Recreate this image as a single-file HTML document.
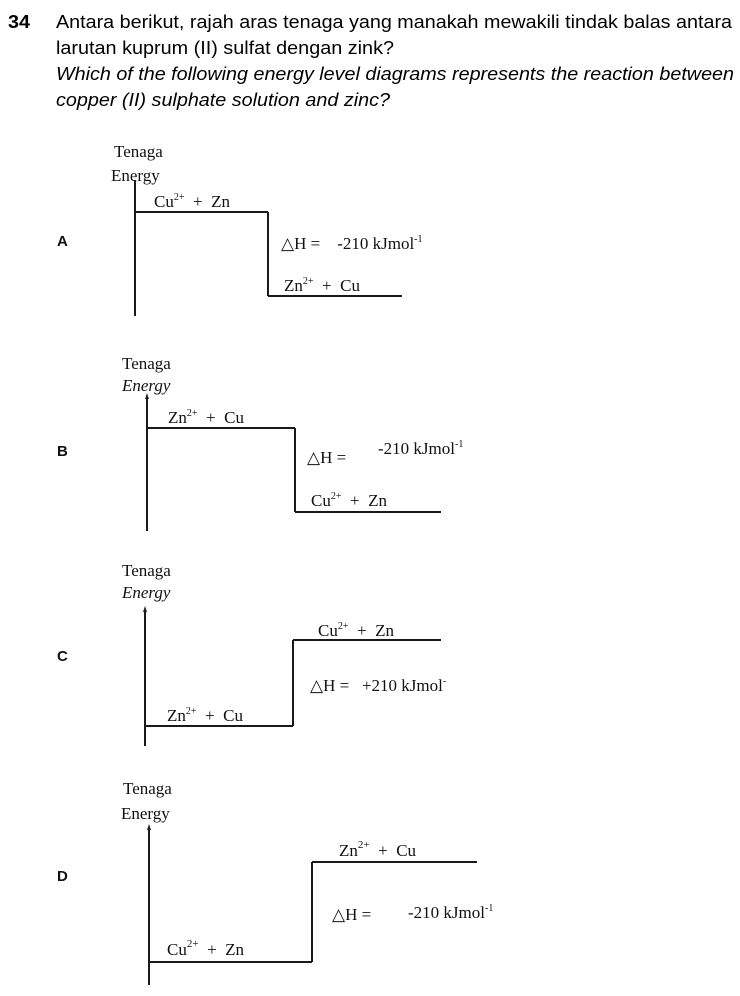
<!DOCTYPE html>
<html><head><meta charset="utf-8"><style>
html,body{margin:0;padding:0;background:#fff;}
svg{display:block;}
.h{font-family:"Liberation Sans",sans-serif;font-size:18px;fill:#000;}
.s{font-family:"Liberation Serif",serif;font-size:17px;fill:#111;white-space:pre;}
.l{font-family:"Liberation Sans",sans-serif;font-size:15px;font-weight:bold;fill:#111;}
line{stroke:#1a1a1a;stroke-width:2;}
</style></head><body>
<svg width="740" height="996" viewBox="0 0 740 996" xmlns="http://www.w3.org/2000/svg" xml:space="preserve">
<text class="h" x="8" y="28" font-weight="bold" textLength="22" lengthAdjust="spacingAndGlyphs">34</text>
<text class="h" x="56" y="28" textLength="676" lengthAdjust="spacingAndGlyphs">Antara berikut, rajah aras tenaga yang manakah mewakili tindak balas antara</text>
<text class="h" x="56" y="54" textLength="338" lengthAdjust="spacingAndGlyphs">larutan kuprum (II) sulfat dengan zink?</text>
<text class="h" x="56" y="80" font-style="italic" textLength="678" lengthAdjust="spacingAndGlyphs">Which of the following energy level diagrams represents the reaction between</text>
<text class="h" x="56" y="106" font-style="italic" textLength="334" lengthAdjust="spacingAndGlyphs">copper (II) sulphate solution and zinc?</text>

<!-- A -->
<text class="l" x="57" y="246">A</text>
<text class="s" x="114" y="157">Tenaga</text>
<text class="s" x="111" y="181">Energy</text>
<line x1="135" y1="180" x2="135" y2="316"/>
<line x1="135" y1="212" x2="268" y2="212"/>
<line x1="268" y1="212" x2="268" y2="296"/>
<line x1="268" y1="296" x2="402" y2="296"/>
<text class="s" x="154" y="207">Cu<tspan font-size="10" dy="-7">2+</tspan><tspan dy="7">  +  Zn</tspan></text>
<text class="s" x="281" y="249">△H =    -210 kJmol<tspan font-size="10" dy="-7">-1</tspan></text>
<text class="s" x="284" y="291">Zn<tspan font-size="10" dy="-7">2+</tspan><tspan dy="7">  +  Cu</tspan></text>

<!-- B -->
<text class="l" x="57" y="456">B</text>
<text class="s" x="122" y="369">Tenaga</text>
<text class="s" x="122" y="391" font-style="italic">Energy</text>
<line x1="147" y1="396" x2="147" y2="531"/>
<polygon points="147,393 145,399 149,399" fill="#222"/>
<line x1="147" y1="428" x2="295" y2="428"/>
<line x1="295" y1="428" x2="295" y2="512"/>
<line x1="295" y1="512" x2="441" y2="512"/>
<text class="s" x="168" y="423">Zn<tspan font-size="10" dy="-7">2+</tspan><tspan dy="7">  +  Cu</tspan></text>
<text class="s" x="307" y="463">△H =</text>
<text class="s" x="378" y="454">-210 kJmol<tspan font-size="10" dy="-7">-1</tspan></text>
<text class="s" x="311" y="506">Cu<tspan font-size="10" dy="-7">2+</tspan><tspan dy="7">  +  Zn</tspan></text>

<!-- C -->
<text class="l" x="57" y="661">C</text>
<text class="s" x="122" y="576">Tenaga</text>
<text class="s" x="122" y="598" font-style="italic">Energy</text>
<line x1="145" y1="610" x2="145" y2="746"/>
<polygon points="145,606 143,612 147,612" fill="#222"/>
<line x1="145" y1="726" x2="293" y2="726"/>
<line x1="293" y1="726" x2="293" y2="640"/>
<line x1="293" y1="640" x2="441" y2="640"/>
<text class="s" x="318" y="636">Cu<tspan font-size="10" dy="-7">2+</tspan><tspan dy="7">  +  Zn</tspan></text>
<text class="s" x="310" y="691">△H =   +210 kJmol<tspan font-size="10" dy="-7">-</tspan></text>
<text class="s" x="167" y="721">Zn<tspan font-size="10" dy="-7">2+</tspan><tspan dy="7">  +  Cu</tspan></text>

<!-- D -->
<text class="l" x="57" y="881">D</text>
<text class="s" x="123" y="794" font-size="20">Tenaga</text>
<text class="s" x="121" y="819" font-size="20">Energy</text>
<line x1="149" y1="828" x2="149" y2="985"/>
<polygon points="149,824 147,830 151,830" fill="#222"/>
<line x1="149" y1="962" x2="312" y2="962"/>
<line x1="312" y1="962" x2="312" y2="862"/>
<line x1="312" y1="862" x2="477" y2="862"/>
<text class="s" x="339" y="856" font-size="19">Zn<tspan font-size="11" dy="-8">2+</tspan><tspan dy="8">  +  Cu</tspan></text>
<text class="s" x="332" y="920" font-size="19">△H =</text>
<text class="s" x="408" y="918" font-size="15">-210 kJmol<tspan font-size="10" dy="-7">-1</tspan></text>
<text class="s" x="167" y="955" font-size="19">Cu<tspan font-size="11" dy="-8">2+</tspan><tspan dy="8">  +  Zn</tspan></text>
</svg>
</body></html>
